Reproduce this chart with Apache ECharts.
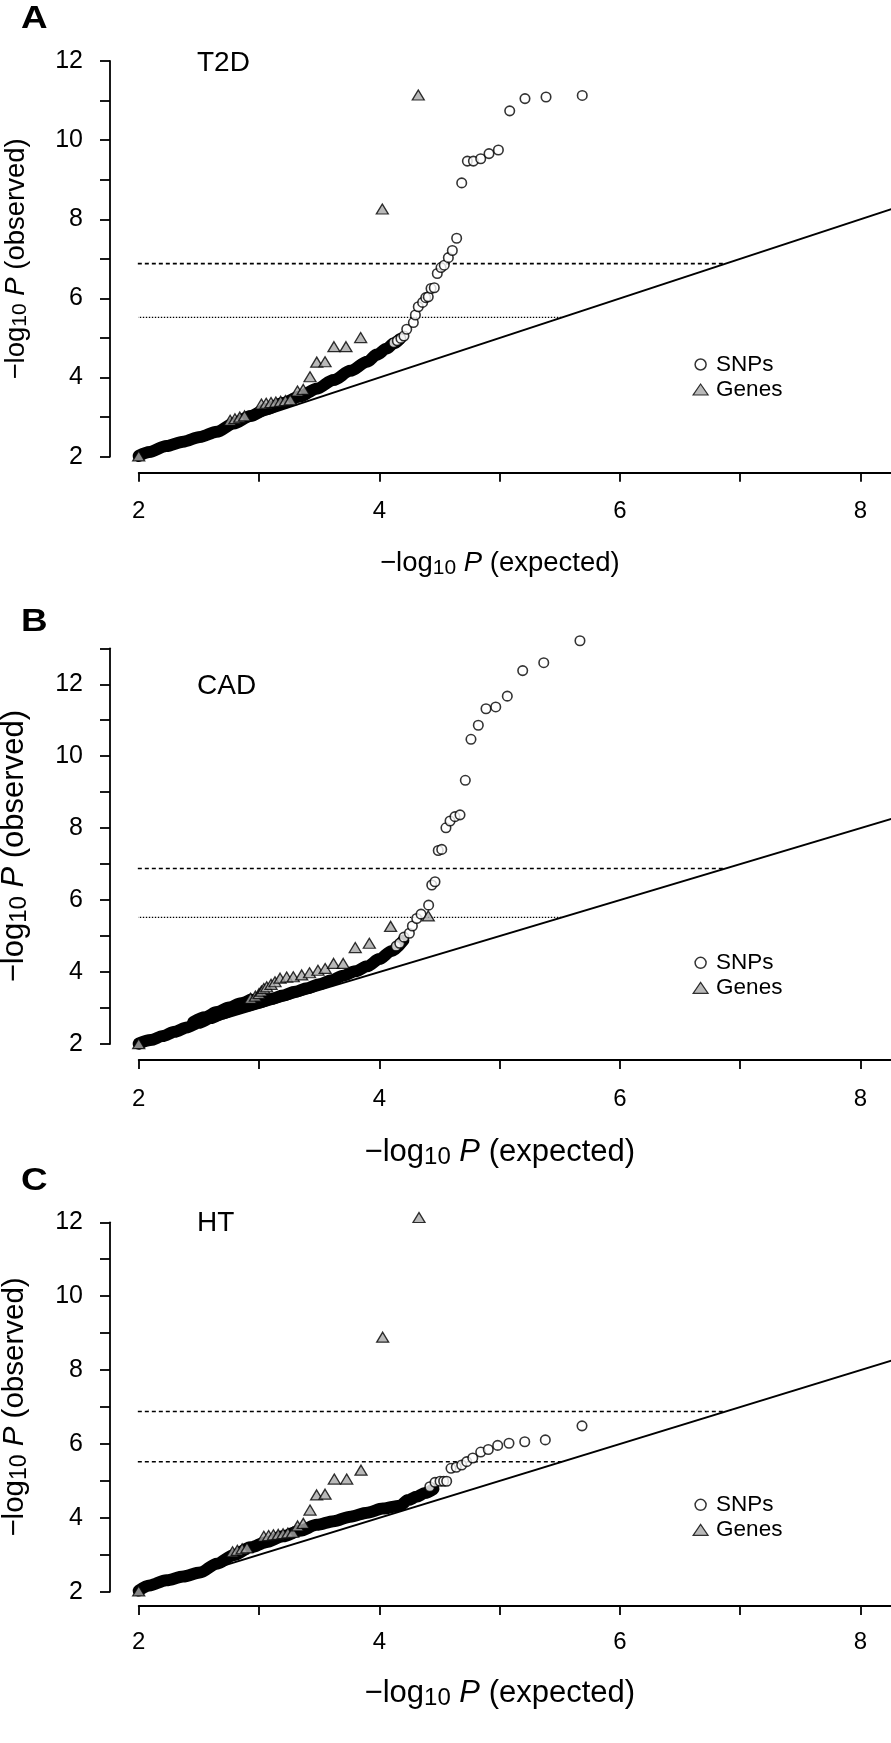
<!DOCTYPE html>
<html>
<head>
<meta charset="utf-8">
<script src="https://cdn.jsdelivr.net/npm/echarts@6/dist/echarts.min.js"></script>
<style>
html,body{margin:0;padding:0;background:#fff}
#chart{width:891px;height:1743px}
</style>
</head>
<body>
<div id="chart"></div>
<script>
// ---------------- DATA ----------------
const panelLetters = ['A', 'B', 'C'];
const panelTitles = ['T2D', 'CAD', 'HT'];
const legendNames = ['SNPs', 'Genes'];
const xTickLabels = [2, 4, 6, 8];
const yTickLabels = [2, 4, 6, 8, 10, 12];

const sigThreshold = 6.88;   // upper (dashed) line
const sugThreshold = 5.52;   // lower (dotted / dashed) line
const plotXStart = 1.76;     // left edge of the plotting region (data units)
const diagonal = [[1.76, 1.76], [8.32, 8.32]];

// Panel A : T2D
const t2dSnpDense = [[2.00,2.02],[2.09,2.12],[2.23,2.27],[2.37,2.38],[2.51,2.50],[2.65,2.63],[2.79,2.84],[2.93,3.03],[3.06,3.20],[3.20,3.36],[3.34,3.52],[3.48,3.72],[3.62,3.94],[3.76,4.17],[3.90,4.40],[3.98,4.58],[4.06,4.73],[4.12,4.86],[4.17,4.97]];
const t2dSnps = [[4.12,4.88],[4.15,4.93],[4.18,4.99],[4.205,5.05],[4.228,5.22],[4.283,5.39],[4.30,5.58],[4.324,5.79],[4.36,5.90],[4.386,6.02],[4.407,6.04],[4.43,6.25],[4.457,6.27],[4.482,6.63],[4.513,6.78],[4.54,6.84],[4.574,7.03],[4.607,7.21],[4.643,7.52],[4.685,8.92],[4.732,9.47],[4.782,9.47],[4.843,9.53],[4.912,9.66],[4.99,9.75],[5.084,10.74],[5.211,11.05],[5.386,11.09],[5.687,11.13]];
const t2dGeneDense = [];
const t2dGenes = [[2.00,2.02],[2.76,2.92],[2.80,2.96],[2.84,3.00],[2.88,3.03],[3.02,3.33],[3.06,3.35],[3.10,3.37],[3.14,3.38],[3.18,3.40],[3.22,3.42],[3.26,3.44],[3.32,3.66],[3.368,3.70],[3.424,4.02],[3.48,4.39],[3.549,4.40],[3.623,4.78],[3.723,4.78],[3.845,5.01],[4.025,8.26],[4.324,11.14]];

// Panel B : CAD
const cadSnpDense = [[2.00,2.01],[2.10,2.11],[2.20,2.22],[2.30,2.34],[2.40,2.46],[2.50,2.59],[2.60,2.72],[2.70,2.85],[2.80,2.97],[2.90,3.06],[3.00,3.15],[3.10,3.25],[3.20,3.35],[3.30,3.45],[3.40,3.55],[3.50,3.66],[3.60,3.77],[3.70,3.90],[3.80,4.02],[3.90,4.16],[4.00,4.36],[4.10,4.58],[4.20,4.88]];
const cadSnps = [[4.14,4.72],[4.17,4.80],[4.205,4.97],[4.25,5.08],[4.275,5.28],[4.311,5.49],[4.347,5.61],[4.41,5.86],[4.436,6.42],[4.463,6.51],[4.49,7.38],[4.519,7.41],[4.554,8.01],[4.588,8.20],[4.629,8.32],[4.671,8.37],[4.715,9.33],[4.762,10.47],[4.823,10.86],[4.887,11.32],[4.968,11.37],[5.064,11.67],[5.192,12.38],[5.367,12.60],[5.668,13.21]];
const cadGeneDense = [[2.45,2.62],[2.55,2.76],[2.65,2.90],[2.75,3.03],[2.85,3.15],[2.93,3.25]];
const cadGenes = [[2.00,2.01],[2.93,3.27],[2.97,3.33],[3.00,3.40],[3.02,3.47],[3.04,3.54],[3.064,3.59],[3.10,3.66],[3.133,3.73],[3.175,3.83],[3.23,3.86],[3.285,3.87],[3.355,3.92],[3.42,3.98],[3.49,4.05],[3.55,4.10],[3.62,4.24],[3.70,4.24],[3.80,4.68],[3.917,4.80],[4.094,5.27],[4.407,5.56]];

// Panel C : HT
const htSnpDense = [[2.00,2.03],[2.09,2.17],[2.23,2.31],[2.37,2.41],[2.51,2.52],[2.65,2.76],[2.79,2.99],[2.93,3.20],[3.06,3.34],[3.20,3.50],[3.34,3.65],[3.48,3.81],[3.62,3.91],[3.76,4.03],[3.90,4.14],[4.03,4.25],[4.17,4.33],[4.24,4.48],[4.31,4.57],[4.38,4.67],[4.45,4.78]];
const htSnps = [[4.42,4.84],[4.463,4.96],[4.505,4.99],[4.535,4.99],[4.56,4.99],[4.596,5.34],[4.64,5.37],[4.685,5.43],[4.727,5.52],[4.777,5.62],[4.843,5.78],[4.906,5.85],[4.984,5.96],[5.078,6.02],[5.209,6.06],[5.38,6.11],[5.685,6.49]];
const htGeneDense = [];
const htGenes = [[2.00,2.02],[2.78,3.08],[2.82,3.12],[2.86,3.16],[2.90,3.19],[3.04,3.50],[3.08,3.52],[3.12,3.54],[3.16,3.55],[3.20,3.57],[3.24,3.59],[3.28,3.61],[3.321,3.78],[3.368,3.85],[3.424,4.21],[3.479,4.62],[3.549,4.64],[3.626,5.05],[3.729,5.05],[3.848,5.29],[4.028,8.89],[4.33,12.13]];

// ---------------- LAYOUT / STYLE ----------------
const FONT = '"Liberation Sans", Arial, Helvetica, sans-serif';
const panelData = [
  { snpDense: t2dSnpDense, geneDense: t2dGeneDense, snps: t2dSnps, genes: t2dGenes },
  { snpDense: cadSnpDense, geneDense: cadGeneDense, snps: cadSnps, genes: cadGenes },
  { snpDense: htSnpDense,  geneDense: htGeneDense,  snps: htSnps,  genes: htGenes }
];
const layout = [
  { top: 61.0,   height: 395.7, yMax: 12, xOff: 16.0, xNameGap: 76, xNameSize: 27.5, yNameSize: 27.5, xLabelMargin: 27,
    letterY: 19.2, titleY: 63, legendTop: 353, lowerDash: [1.4, 1.6], lowerWidth: 1.3 },
  { top: 648.3,  height: 395.7, yMax: 13, xOff: 16.0, xNameGap: 75, xNameSize: 31, yNameSize: 31, xLabelMargin: 27,
    letterY: 622.5, titleY: 686.7, legendTop: 951.3, lowerDash: [1.4, 1.6], lowerWidth: 1.3 },
  { top: 1222.3, height: 369.4, yMax: 12, xOff: 14.3, xNameGap: 70, xNameSize: 31, yNameSize: 29.5, xLabelMargin: 24,
    letterY: 1181, titleY: 1223, legendTop: 1493.3, lowerDash: [4, 3], lowerWidth: 1.5 }
];
const gridLeft = 138.7;
const xMin = 2, xMax = 8.32, xUnit = 120.3;
const yAxisOffset = 28.7;

function richName(size, word) {
  return {
    text: '{n|\u2212log}{s|10}{n| }{i|P}{n| (' + word + ')}',
    rich: {
      n: { fontSize: size, fontFamily: FONT, color: '#000' },
      s: { fontSize: Math.round(size * 0.78), fontFamily: FONT, color: '#000', padding: [Math.round(size * 0.33), 0, 0, 0] },
      i: { fontSize: size, fontFamily: FONT, fontStyle: 'italic', color: '#000' }
    }
  };
}

const grids = [], xAxes = [], yAxes = [], series = [], legends = [], graphics = [];

layout.forEach((L, i) => {
  grids.push({ left: gridLeft, top: L.top, width: (xMax - xMin) * xUnit, height: L.height,
    containLabel: false, outerBoundsMode: 'none' });

  const xn = richName(L.xNameSize, 'expected');
  xAxes.push({
    type: 'value', gridIndex: i, min: xMin, max: xMax, interval: 1, offset: L.xOff,
    axisLine: { onZero: false, lineStyle: { color: '#000', width: 1.8 } },
    axisTick: { length: 9, lineStyle: { color: '#000', width: 1.8 } },
    axisLabel: { fontSize: 24, fontFamily: FONT, color: '#000', margin: L.xLabelMargin,
      formatter: v => (xTickLabels.indexOf(v) >= 0 ? String(v) : '') },
    splitLine: { show: false },
    name: xn.text, nameLocation: 'middle', nameGap: L.xNameGap,
    nameTextStyle: { rich: xn.rich, padding: [0, 38, 0, 0] }
  });

  const yn = richName(L.yNameSize, 'observed');
  yAxes.push({
    type: 'value', gridIndex: i, min: 2, max: L.yMax, interval: 1, offset: yAxisOffset,
    axisLine: { onZero: false, lineStyle: { color: '#000', width: 1.8 } },
    axisTick: { length: 10, lineStyle: { color: '#000', width: 1.8 } },
    axisLabel: { fontSize: 25, fontFamily: FONT, color: '#000', margin: 27,
      formatter: v => (yTickLabels.indexOf(v) >= 0 ? String(v) : '') },
    splitLine: { show: false },
    name: yn.text, nameLocation: 'middle', nameRotate: 90, nameGap: 79,
    nameTextStyle: { rich: yn.rich }
  });

  const D = panelData[i];
  const common = { xAxisIndex: i, yAxisIndex: i, silent: true, clip: false, animation: false, emphasis: { disabled: true } };

  series.push(Object.assign({}, common, {
    type: 'line', name: 'diag' + i, data: diagonal, symbol: 'none', z: 1,
    lineStyle: { color: '#000', width: 1.8 }
  }));
  series.push(Object.assign({}, common, {
    type: 'line', name: 'sig' + i, data: [[plotXStart, sigThreshold], [sigThreshold, sigThreshold]], symbol: 'none', z: 1,
    lineStyle: { color: '#000', width: 1.6, type: [4, 3] }
  }));
  series.push(Object.assign({}, common, {
    type: 'line', name: 'sug' + i, data: [[plotXStart, sugThreshold], [sugThreshold, sugThreshold]], symbol: 'none', z: 1,
    lineStyle: { color: '#000', width: L.lowerWidth, type: L.lowerDash }
  }));
  series.push(Object.assign({}, common, {
    type: 'line', name: 'snpDense' + i, data: D.snpDense, symbol: 'none', z: 3, smooth: 0.3, smoothMonotone: 'x',
    lineStyle: { color: '#000', width: 12, cap: 'round', join: 'round' }
  }));
  if (D.geneDense.length) {
    series.push(Object.assign({}, common, {
      type: 'line', name: 'geneDense' + i, data: D.geneDense, symbol: 'none', z: 3, smooth: 0.3, smoothMonotone: 'x',
      lineStyle: { color: '#000', width: 11, cap: 'round', join: 'round' }
    }));
  }
  series.push(Object.assign({}, common, {
    type: 'scatter', name: 'SNPs', data: D.snps, symbol: 'circle', symbolSize: 9.5, z: 4,
    itemStyle: { color: '#fff', borderColor: '#000', borderWidth: 1.6 }
  }));
  series.push(Object.assign({}, common, {
    type: 'scatter', name: 'Genes', data: D.genes, symbol: 'triangle', symbolSize: [12, 10], z: 5,
    itemStyle: { color: '#a8a8a8', borderColor: '#000', borderWidth: 1.3 }
  }));

  legends.push({
    orient: 'vertical', left: 692.5, top: L.legendTop, itemWidth: 15, itemHeight: 11, itemGap: 2,
    selectedMode: false, padding: 0,
    textStyle: { fontSize: 22.5, fontFamily: FONT, color: '#000', padding: [0, 0, 0, 3] },
    data: [
      { name: legendNames[0], icon: 'circle', itemStyle: { color: '#fff', borderColor: '#000', borderWidth: 1.5 } },
      { name: legendNames[1], icon: 'triangle', itemStyle: { color: '#a8a8a8', borderColor: '#000', borderWidth: 1.2 } }
    ]
  });

  graphics.push({ type: 'text', x: 21, y: L.letterY, scaleX: 1.15, silent: true,
    style: { text: panelLetters[i], fontSize: 32, fontWeight: 'bold', fontFamily: FONT, fill: '#000', verticalAlign: 'middle' } });
  graphics.push({ type: 'text', x: 197, y: L.titleY, silent: true,
    style: { text: panelTitles[i], fontSize: 28, fontFamily: FONT, fill: '#000', verticalAlign: 'middle' } });
});

const chart = echarts.init(document.getElementById('chart'), null, { renderer: 'canvas' });
chart.setOption({
  animation: false,
  backgroundColor: '#fff',
  grid: grids,
  xAxis: xAxes,
  yAxis: yAxes,
  legend: legends,
  graphic: graphics,
  series: series
});
</script>
</body>
</html>
